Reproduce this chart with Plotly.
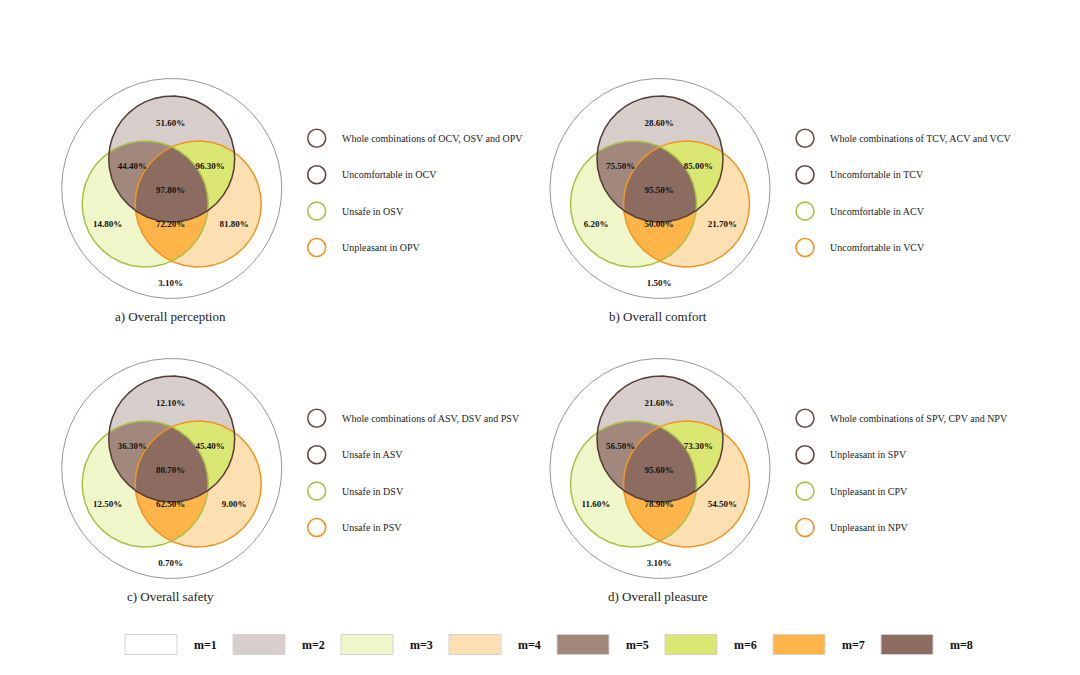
import numpy as np
import plotly.graph_objects as go

# ------------------------------------------------------------
# data
# ------------------------------------------------------------
panel_titles = ["a) Overall perception", "b) Overall comfort",
                "c) Overall safety", "d) Overall pleasure"]

# share of each Venn region, ordered m=1 .. m=8
# m1 outside, m2 top, m3 left, m4 right, m5 top+left, m6 top+right,
# m7 left+right, m8 all three
perception = [3.10, 51.60, 14.80, 81.80, 44.40, 96.30, 72.20, 97.80]
comfort = [1.50, 28.60, 6.20, 21.70, 75.50, 85.00, 50.00, 95.50]
safety = [0.70, 12.10, 12.50, 9.00, 36.30, 45.40, 62.50, 80.70]
pleasure = [3.10, 21.60, 11.60, 54.50, 56.50, 73.30, 78.90, 95.60]
panel_values = [perception, comfort, safety, pleasure]

legend_perception = ["Whole combinations of OCV, OSV and OPV", "Uncomfortable in OCV",
                     "Unsafe in OSV", "Unpleasant in OPV"]
legend_comfort = ["Whole combinations of TCV, ACV and VCV", "Uncomfortable in TCV",
                  "Uncomfortable in ACV", "Uncomfortable in VCV"]
legend_safety = ["Whole combinations of ASV, DSV and PSV", "Unsafe in ASV",
                 "Unsafe in DSV", "Unsafe in PSV"]
legend_pleasure = ["Whole combinations of SPV, CPV and NPV", "Unpleasant in SPV",
                   "Unpleasant in CPV", "Unpleasant in NPV"]
panel_legends = [legend_perception, legend_comfort, legend_safety, legend_pleasure]

m_labels = ["m=1", "m=2", "m=3", "m=4", "m=5", "m=6", "m=7", "m=8"]

# ------------------------------------------------------------
# styling / layout
# ------------------------------------------------------------
M_COLORS = ["#ffffff", "#d7cdca", "#eff6c9", "#fde0b1",
            "#a2877c", "#dbe773", "#fdb54a", "#8c6c60"]
LINE_TOP = "#553c34"
LINE_LEFT = "#a9c146"
LINE_RIGHT = "#f29424"
LEG_LINE = ["#6b5149", "#5e463e", LINE_LEFT, LINE_RIGHT]
FONT = "Times New Roman, Liberation Serif, serif"

# body margin of the html page is 8px -> shift the axes so pixel units stay true
PAD = 8
W, H = 1080 - 2 * PAD, 675 - 2 * PAD
CENTERS = [(171.7, 188.5), (660.0, 188.5), (171.7, 468.5), (660.0, 468.5)]
R_OUT = 110
R_IN = 63
OFF_TOP = (0.0, -29.5)
OFF_LEFT = (-26.5, 15.5)
OFF_RIGHT = (26.5, 15.5)
# label offsets by m index
LABEL_OFF = [(-1, 95), (-1, -65), (-64, 36.5), (62.3, 36.5),
             (-39.4, -21.8), (38.3, -21.8), (-1, 36.5), (-1, 2.5)]


def circle_pts(cx, cy, r, n=721):
    t = np.linspace(0, 2 * np.pi, n)
    return cx + r * np.cos(t), cy + r * np.sin(t)


def inter_poly(circles, n=1440):
    """Konveks kesişim bölgesi: her çemberin diğerlerinin içinde kalan sınır noktaları."""
    px, py = [], []
    for i, (cx, cy, r) in enumerate(circles):
        t = np.linspace(0, 2 * np.pi, n, endpoint=False)
        x = cx + r * np.cos(t)
        y = cy + r * np.sin(t)
        ok = np.ones(n, dtype=bool)
        for j, (ox, oy, orr) in enumerate(circles):
            if j != i:
                ok &= (x - ox) ** 2 + (y - oy) ** 2 <= orr ** 2 + 1e-6
        px.extend(x[ok])
        py.extend(y[ok])
    px, py = np.array(px), np.array(py)
    ang = np.arctan2(py - py.mean(), px - px.mean())
    idx = np.argsort(ang)
    px, py = px[idx], py[idx]
    return np.append(px, px[0]), np.append(py, py[0])


def fill_trace(x, y, color, line_color=None, line_width=0):
    return go.Scatter(x=x, y=y, mode="lines", fill="toself", fillcolor=color,
                      line=dict(color=line_color or color, width=line_width),
                      hoverinfo="skip", showlegend=False)


fig = go.Figure()
annotations = []
shapes = []

for p, (cx, cy) in enumerate(CENTERS):
    vals = panel_values[p]
    top = (cx + OFF_TOP[0], cy + OFF_TOP[1], R_IN)
    left = (cx + OFF_LEFT[0], cy + OFF_LEFT[1], R_IN)
    right = (cx + OFF_RIGHT[0], cy + OFF_RIGHT[1], R_IN)

    # outer set
    x, y = circle_pts(cx, cy, R_OUT)
    fig.add_trace(fill_trace(x, y, M_COLORS[0], "#8a8a8a", 0.9))

    # single circles
    for c, col in [(top, M_COLORS[1]), (left, M_COLORS[2]), (right, M_COLORS[3])]:
        x, y = circle_pts(*c)
        fig.add_trace(fill_trace(x, y, col))

    # overlaps
    for cs, col in [([top, left], M_COLORS[4]), ([top, right], M_COLORS[5]),
                    ([left, right], M_COLORS[6]), ([top, left, right], M_COLORS[7])]:
        x, y = inter_poly(cs)
        fig.add_trace(fill_trace(x, y, col))

    # outlines
    for c, col in [(left, LINE_LEFT), (right, LINE_RIGHT), (top, LINE_TOP)]:
        x, y = circle_pts(*c)
        fig.add_trace(go.Scatter(x=x, y=y, mode="lines", line=dict(color=col, width=1.5),
                                 hoverinfo="skip", showlegend=False))

    # percentages
    fig.add_trace(go.Scatter(
        x=[cx + o[0] for o in LABEL_OFF], y=[cy + o[1] for o in LABEL_OFF],
        mode="text", text=[f"{v:.2f}%" for v in vals],
        textfont=dict(family=FONT, size=9, color="#111111", weight="bold"),
        hoverinfo="skip", showlegend=False))

    # panel title
    annotations.append(dict(x=cx - 1.7, y=cy + 128, text=panel_titles[p], showarrow=False,
                            xref="x", yref="y", font=dict(family=FONT, size=13, color="#222222")))

    # legend circles + text
    ly = [cy - 50.2 + 36.4 * k for k in range(4)]
    fig.add_trace(go.Scatter(
        x=[cx + 145] * 4, y=ly, mode="markers",
        marker=dict(symbol="circle-open", size=18, color=LEG_LINE, line=dict(width=1.6)),
        hoverinfo="skip", showlegend=False))
    for k, lab in enumerate(panel_legends[p]):
        annotations.append(dict(x=cx + 168.3, y=ly[k], text=lab, showarrow=False,
                                xref="x", yref="y", xanchor="left",
                                font=dict(family=FONT, size=10, color="#222222")))

# bottom colour key
for i, lab in enumerate(m_labels):
    x0 = 125 + 108 * i
    shapes.append(dict(type="rect", xref="x", yref="y", x0=x0, x1=x0 + 52, y0=634.5, y1=654.5,
                       fillcolor=M_COLORS[i], line=dict(color="#d3d3d3", width=1), layer="above"))
    annotations.append(dict(x=x0 + 80, y=644.5, text=lab, showarrow=False, xref="x", yref="y",
                            font=dict(family=FONT, size=12, color="#111111", weight="bold")))

fig.update_layout(
    width=W, height=H,
    margin=dict(l=0, r=0, t=0, b=0),
    paper_bgcolor="white", plot_bgcolor="white",
    xaxis=dict(range=[PAD, PAD + W], visible=False, fixedrange=True),
    yaxis=dict(range=[PAD + H, PAD], visible=False, fixedrange=True),
    shapes=shapes, annotations=annotations,
    showlegend=False,
)

fig.write_html("out.html")
